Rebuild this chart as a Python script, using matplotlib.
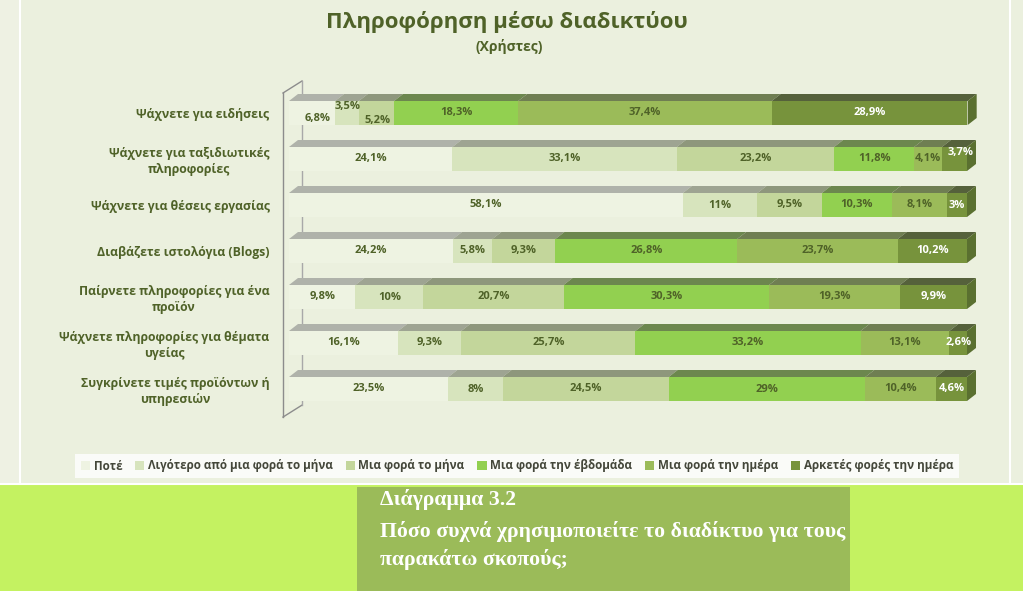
import matplotlib.pyplot as plt
from matplotlib.patches import Rectangle, Polygon
from matplotlib.lines import Line2D
import matplotlib.colors as mcolors

categories = [
    "Ψάχνετε για ειδήσεις",
    "Ψάχνετε για ταξιδιωτικές\nπληροφορίες",
    "Ψάχνετε για θέσεις εργασίας",
    "Διαβάζετε ιστολόγια (Blogs)",
    "Παίρνετε πληροφορίες για ένα\nπροϊόν",
    "Ψάχνετε πληροφορίες για θέματα\nυγείας",
    "Συγκρίνετε τιμές προϊόντων ή\nυπηρεσιών",
]
series_names = [
    "Ποτέ",
    "Λιγότερο από μια φορά το μήνα",
    "Μια φορά το μήνα",
    "Μια φορά την έβδομάδα",
    "Μια φορά την ημέρα",
    "Αρκετές φορές την ημέρα",
]
never = [6.8, 24.1, 58.1, 24.2, 9.8, 16.1, 23.5]
less_month = [3.5, 33.1, 11, 5.8, 10, 9.3, 8]
once_month = [5.2, 23.2, 9.5, 9.3, 20.7, 25.7, 24.5]
once_week = [18.3, 11.8, 10.3, 26.8, 30.3, 33.2, 29]
once_day = [37.4, 4.1, 8.1, 23.7, 19.3, 13.1, 10.4]
many_day = [28.9, 3.7, 3, 10.2, 9.9, 2.6, 4.6]
series = [never, less_month, once_month, once_week, once_day, many_day]

colors = ["#EEF3E2", "#D7E4BD", "#C3D69B", "#92D050", "#9BBB59", "#77933C"]
label_colors = ["#4F6228"] * 5 + ["white"]
dark = "#4F6228"
font = ["Open Sans", "DejaVu Sans"]


def fmt(v):
    s = ("%g" % v).replace(".", ",")
    return s + "%"


def shade(c, f):
    r, g, b = mcolors.to_rgb(c)
    gray = (r + g + b) / 3
    r, g, b = [(x * 0.6 + gray * 0.4) * f for x in (r, g, b)]
    return (r, g, b)


fig = plt.figure(figsize=(10.23, 5.91), dpi=100)
fig.patch.set_facecolor("#C4F261")

# chart panel
fig.patches.append(Rectangle((0, 1 - 485 / 591), 1, 485 / 591, transform=fig.transFigure,
                             facecolor="#EBF0DE", edgecolor="none", zorder=-2))
fig.patches.append(Rectangle((0, 1 - 485 / 591), 20 / 1023, 485 / 591, transform=fig.transFigure,
                             facecolor="#EEF1E3", edgecolor="none", zorder=-2))
for xp in (20, 1010):
    fig.lines.append(Line2D([xp / 1023, xp / 1023], [1 - 483 / 591, 1], transform=fig.transFigure,
                            color="white", lw=1.5, zorder=-1))
fig.lines.append(Line2D([0, 1], [1 - 484 / 591, 1 - 484 / 591], transform=fig.transFigure,
                        color="white", lw=1.5, zorder=-1))

# caption box
fig.patches.append(Rectangle((357 / 1023, 0), (850 - 357) / 1023, 104 / 591, transform=fig.transFigure,
                             facecolor="#9BBB59", edgecolor="none", zorder=-2))
cap_font = dict(color="white", fontsize=15.7, fontweight="bold", family=["Liberation Serif", "DejaVu Serif"],
                ha="left", va="center")
fig.text(380 / 1023, 1 - 500 / 591, "Διάγραμμα 3.2", **cap_font)
fig.text(380 / 1023, 1 - 531 / 591, "Πόσο συχνά χρησιμοποιείτε το διαδίκτυο για τους", **cap_font)
fig.text(380 / 1023, 1 - 560 / 591, "παρακάτω σκοπούς;", **cap_font)

# titles
fig.text(507 / 1023, 1 - 22 / 591, "Πληροφόρηση μέσω διαδικτύου", color=dark, fontsize=16,
         fontweight="bold", family=font, ha="center", va="center")
fig.text(509 / 1023, 1 - 46 / 591, "(Χρήστες)", color=dark, fontsize=10,
         fontweight="bold", family=font, ha="center", va="center")

ax = fig.add_axes([289 / 1023, 1 - 423.5 / 591, 678 / 1023, 345 / 591])
ax.set_facecolor("none")
ax.set_xlim(0, 100)
ax.set_ylim(6.75, -0.75)
for sp in ax.spines.values():
    sp.set_visible(False)
ax.set_xticks([])

h = 24 / 46
dx = 9 / 6.78
dy = 7 / 46

# wall
wall_col = "#8C8C8C"
ax.plot([-0.885, -0.885], [-0.435, 6.61], color=wall_col, lw=1, clip_on=False, zorder=1)
ax.plot([-0.885, 1.92], [-0.435, -0.696], color=wall_col, lw=1, clip_on=False, zorder=1)
ax.plot([-0.885, 1.92], [6.61, 6.35], color=wall_col, lw=1, clip_on=False, zorder=1)
ax.plot([1.92, 1.92], [-0.696, 6.35], color="#A8A8A8", lw=1, clip_on=False, zorder=1)

ypos = list(range(len(categories)))
lefts = [0] * len(categories)
handles = []
for k, vals in enumerate(series):
    bars = ax.barh(ypos, vals, left=lefts, height=h, color=colors[k], edgecolor="none",
                   zorder=3, label=series_names[k])
    handles.append(bars)
    for i, v in enumerate(vals):
        x0 = lefts[i]
        x1 = x0 + v
        top = i - h / 2
        ax.add_patch(Polygon([(x0, top), (x0 + dx, top - dy), (x1 + dx, top - dy), (x1, top)],
                             closed=True, facecolor=shade(colors[k], 0.74), edgecolor="none",
                             zorder=2, clip_on=False))
        if k == len(series) - 1:
            ax.add_patch(Polygon([(x1, top), (x1 + dx, top - dy), (x1 + dx, top - dy + h), (x1, top + h)],
                                 closed=True, facecolor="#5A7030", edgecolor="none",
                                 zorder=2, clip_on=False))
    lefts = [a + b for a, b in zip(lefts, vals)]

# value labels
offsets = {(0, 0): (6, 5), (0, 1): (1, -7), (0, 2): (1, 7), (1, 5): (6, -6)}
lefts = [0] * len(categories)
for k, vals in enumerate(series):
    for i, v in enumerate(vals):
        ox, oy = offsets.get((i, k), (0, 0))
        ax.annotate(fmt(v), (lefts[i] + v / 2, i), xytext=(ox, -oy), textcoords="offset pixels",
                    ha="center", va="center", fontsize=8, fontweight="bold",
                    color=label_colors[k], family=font, zorder=5)
    lefts = [a + b for a, b in zip(lefts, vals)]

ax.set_yticks(ypos)
ax.set_yticklabels(categories, fontsize=8.8, fontweight="bold", color=dark, family=font)
for lbl in ax.get_yticklabels():
    lbl.set_multialignment("center")
ax.tick_params(axis="y", length=0, pad=14)

leg = fig.legend(handles=handles, labels=series_names, loc="center", ncol=6,
                 bbox_to_anchor=(517 / 1023, 1 - 466 / 591), frameon=True, fancybox=False,
                 prop={"family": font, "size": 8.4, "weight": "bold"}, handlelength=0.8,
                 handleheight=0.8, handletextpad=0.3, columnspacing=1.1, borderpad=0.45)
leg.get_frame().set_facecolor("white")
leg.get_frame().set_edgecolor("none")
for t in leg.get_texts():
    t.set_color("#44473A")

fig.savefig("out.png", dpi=100, facecolor=fig.get_facecolor())
